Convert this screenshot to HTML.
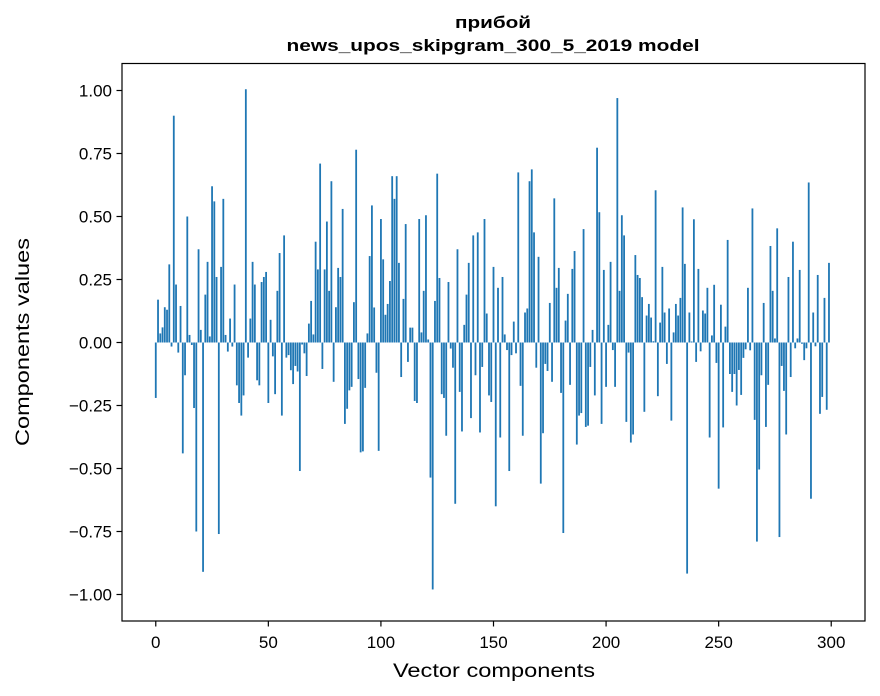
<!DOCTYPE html>
<html><head><meta charset="utf-8">
<style>
html,body{margin:0;padding:0;background:#fff;}
svg{display:block;font-family:"Liberation Sans","DejaVu Sans",sans-serif;}
</style></head>
<body>
<svg id="chart" width="880" height="696" viewBox="0 0 880 696" xmlns="http://www.w3.org/2000/svg">
<rect x="0" y="0" width="880" height="696" fill="#fff"/>
<text x="493" y="28" text-anchor="middle" font-size="17" font-weight="bold" textLength="76" lengthAdjust="spacingAndGlyphs">прибой</text>
<text x="493" y="51" text-anchor="middle" font-size="17" font-weight="bold" textLength="413" lengthAdjust="spacingAndGlyphs">news_upos_skipgram_300_5_2019 model</text>
<g id="bars"></g>
<g id="yaxis"></g>
<g id="xaxis"></g>
<rect x="122" y="63.5" width="743" height="557.5" fill="none" stroke="#000" stroke-width="1.2"/>
<text x="494" y="677" text-anchor="middle" font-size="19" textLength="202" lengthAdjust="spacingAndGlyphs">Vector components</text>
<text transform="translate(29,342) rotate(-90)" text-anchor="middle" font-size="19" textLength="208" lengthAdjust="spacingAndGlyphs">Components values</text>
</svg>
<script>
const values = [
-0.22,0.17,0.036,0.06,0.14,0.13,0.31,-0.016,0.90,0.23,
-0.04,0.145,-0.44,-0.13,0.50,0.03,-0.01,-0.26,-0.75,0.37,
0.05,-0.91,0.19,0.32,0.024,0.62,0.56,0.26,-0.76,0.30,
0.57,0.03,-0.036,0.095,-0.016,0.23,-0.17,-0.24,-0.29,-0.21,
1.005,-0.06,0.095,0.32,0.23,-0.15,-0.17,0.24,0.26,0.28,
-0.24,0.09,-0.055,-0.205,0.205,0.355,-0.29,0.425,-0.06,-0.05,
-0.11,-0.165,-0.093,-0.115,-0.51,-0.008,-0.043,-0.133,0.075,0.165,
0.032,0.40,0.29,0.71,-0.105,0.29,0.48,0.205,0.64,-0.156,
0.14,0.296,0.26,0.53,-0.323,-0.263,-0.19,-0.176,0.16,0.765,
-0.145,-0.436,-0.432,-0.18,0.036,0.343,0.544,0.139,-0.12,-0.43,
0.49,0.33,0.11,0.153,0.244,0.66,0.57,0.66,0.316,-0.137,
0.173,0.47,-0.077,0.059,0.059,-0.232,-0.24,0.49,0.04,0.205,
0.505,0.012,-0.536,-0.98,0.165,0.67,0.256,-0.205,-0.22,-0.37,
0.24,-0.024,-0.1,-0.64,0.37,-0.196,-0.353,0.07,0.19,0.316,
-0.30,0.425,-0.13,0.437,-0.357,-0.097,0.49,0.115,-0.21,-0.236,
0.30,-0.65,0.217,-0.377,0.26,0.032,-0.03,-0.51,-0.05,0.083,
-0.043,0.675,-0.172,-0.37,0.119,0.135,0.64,0.687,0.437,-0.10,
0.34,-0.56,-0.36,-0.085,-0.113,0.157,-0.156,0.572,0.217,0.296,
-0.20,-0.756,0.087,0.193,-0.168,0.292,0.363,-0.405,-0.29,-0.28,
0.45,-0.335,-0.33,-0.097,0.05,-0.21,0.773,0.517,-0.323,0.288,
-0.176,0.07,0.32,-0.03,-0.176,0.97,0.205,0.505,0.425,-0.315,
-0.04,-0.397,-0.365,0.347,0.268,0.256,0.18,-0.275,0.107,0.153,
0.099,0.005,0.604,-0.213,0.079,0.30,0.119,-0.085,0.135,-0.31,
0.04,0.153,0.107,0.177,0.536,0.312,-0.917,0.119,0.004,0.489,
-0.077,0.292,-0.035,0.127,0.115,0.217,-0.377,0.028,0.229,-0.081,
-0.58,0.15,-0.337,0.063,0.407,-0.125,-0.196,-0.125,-0.25,-0.109,
-0.208,-0.061,-0.027,0.217,-0.031,0.532,-0.307,-0.79,-0.504,-0.13,
0.157,-0.335,-0.168,0.383,0.205,0.016,0.453,-0.772,-0.093,-0.192,
-0.365,0.26,-0.137,0.40,-0.023,0.016,0.288,-0.005,-0.07,-0.023,
0.635,-0.62,0.119,-0.015,0.268,-0.283,-0.216,0.177,-0.267,0.316
];
const yTicks = [-1.00,-0.75,-0.50,-0.25,0.00,0.25,0.50,0.75,1.00];
const yTickLabels = ["\u22121.00","\u22120.75","\u22120.50","\u22120.25","0.00","0.25","0.50","0.75","1.00"];
const xTicks = [0,50,100,150,200,250,300];
const xTickLabels = ["0","50","100","150","200","250","300"];

const NS = "http://www.w3.org/2000/svg";
const xMin = -15, xMax = 315, left = 122, right = 865;
const yZero = 342.5, yPer = 252;
function xs(v){ return left + (v - xMin) * (right - left) / (xMax - xMin); }
function ys(v){ return yZero - v * yPer; }
function mk(tag, attrs){ const e = document.createElementNS(NS, tag); for (const k in attrs) e.setAttribute(k, attrs[k]); return e; }

const gb = document.getElementById('bars');
values.forEach((v, i) => {
  const x0 = xs(i - 0.4), x1 = xs(i + 0.4);
  const y0 = ys(Math.max(v, 0)), y1 = ys(Math.min(v, 0));
  const r = mk('rect', {x: x0, y: y0, width: x1 - x0, height: Math.max(y1 - y0, 0.01), fill: '#1f77b4'});
  
  
  gb.appendChild(r);
});

const gy = document.getElementById('yaxis');
yTicks.forEach((t, i) => {
  const y = ys(t);
  const l = mk('line', {x1: 116.5, x2: 122, y1: y, y2: y, stroke: '#000', 'stroke-width': 1.2});
  
  
  gy.appendChild(l);
  const tx = mk('text', {x: 112, y: y + 6, 'text-anchor': 'end', 'font-size': 17});
  tx.textContent = yTickLabels[i];
  
  
  gy.appendChild(tx);
});

const gx = document.getElementById('xaxis');
xTicks.forEach((t, i) => {
  const x = xs(t);
  const l = mk('line', {x1: x, x2: x, y1: 621, y2: 626.5, stroke: '#000', 'stroke-width': 1.2});
  
  
  gx.appendChild(l);
  const tx = mk('text', {x: x, y: 648, 'text-anchor': 'middle', 'font-size': 17});
  tx.textContent = xTickLabels[i];
  
  
  gx.appendChild(tx);
});
</script>
</body></html>
